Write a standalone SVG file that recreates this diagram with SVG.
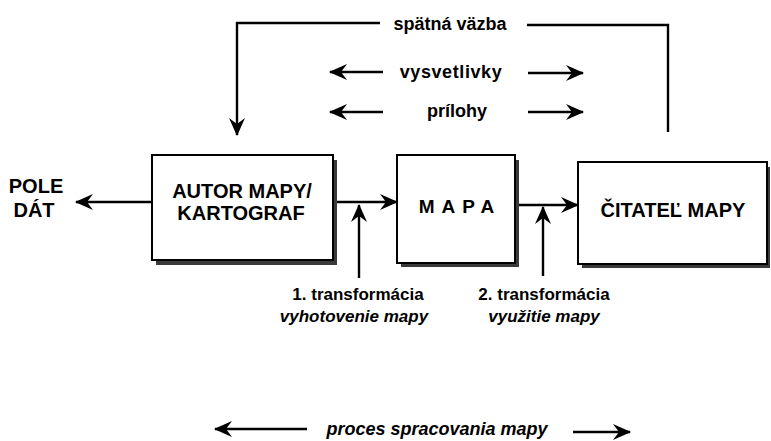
<svg xmlns="http://www.w3.org/2000/svg" width="771" height="441" viewBox="0 0 771 441">
<style>
.box{fill:#fff;stroke:#000;stroke-width:2}
.shadow{fill:#3a3a3a}
.ln{fill:none;stroke:#000;stroke-width:2.4}
.t{font-family:"Liberation Sans",Arial,sans-serif;font-weight:bold;fill:#000}
.big{font-size:20px}
.mid{font-size:18px}
.sm{font-size:17px}
.it{font-style:italic}
</style>
<defs>
<marker id="ah" markerUnits="userSpaceOnUse" markerWidth="18" markerHeight="18" viewBox="0 0 18 18" refX="17" refY="9" orient="auto">
<path d="M0,1 L18,9 L0,17 L6,9 Z" fill="#000"/>
</marker>
</defs>
<rect width="771" height="441" fill="#fff"/>
<g id="connectors">
<line class="ln" x1="152" y1="202" x2="76" y2="202" marker-end="url(#ah)"/>
<line class="ln" x1="333" y1="202" x2="397" y2="202" marker-end="url(#ah)"/>
<line class="ln" x1="359" y1="278" x2="359" y2="205" marker-end="url(#ah)"/>
<line class="ln" x1="515" y1="205" x2="578" y2="205" marker-end="url(#ah)"/>
<line class="ln" x1="543" y1="276" x2="543" y2="207" marker-end="url(#ah)"/>
<polyline class="ln" points="380,23 237,23 237,135" marker-end="url(#ah)"/>
<polyline class="ln" points="527,25 668,25 668,132"/>
<line class="ln" x1="383" y1="72" x2="330" y2="72" marker-end="url(#ah)"/>
<line class="ln" x1="528" y1="73" x2="583" y2="73" marker-end="url(#ah)"/>
<line class="ln" x1="383" y1="112" x2="330" y2="112" marker-end="url(#ah)"/>
<line class="ln" x1="528" y1="112" x2="583" y2="112" marker-end="url(#ah)"/>
<line class="ln" x1="307" y1="429" x2="215" y2="429" marker-end="url(#ah)"/>
<line class="ln" x1="573" y1="432" x2="630" y2="432" marker-end="url(#ah)"/>
</g>
<g id="pole-dat">
<text class="t big" x="36" y="193" text-anchor="middle">POLE</text>
<text class="t big" x="34" y="217" text-anchor="middle">DÁT</text>
</g>
<g id="autor">
<rect class="shadow" x="156" y="160" width="181" height="105"/>
<rect class="box" x="152" y="155" width="181" height="105"/>
<text class="t big" x="242" y="198" text-anchor="middle">AUTOR MAPY/</text>
<text class="t big" x="241" y="220" text-anchor="middle">KARTOGRAF</text>
</g>
<g id="mapa">
<rect class="shadow" x="401" y="160" width="118" height="107"/>
<rect class="box" x="397" y="155" width="118" height="108"/>
<text class="t" x="460" y="213" font-size="19" letter-spacing="7" text-anchor="middle">MAPA</text>
</g>
<g id="citatel">
<rect class="shadow" x="582" y="167" width="188" height="101"/>
<rect class="box" x="578" y="162" width="189" height="102"/>
<text class="t big" x="673" y="217" text-anchor="middle">ČITATEĽ MAPY</text>
</g>
<g id="labels">
<text class="t mid" x="450" y="30" text-anchor="middle">spätná väzba</text>
<text class="t mid" x="451" y="78" text-anchor="middle" letter-spacing="0.6">vysvetlivky</text>
<text class="t mid" x="457" y="117" text-anchor="middle">prílohy</text>
<text class="t sm" x="358" y="300" text-anchor="middle">1. transformácia</text>
<text class="t sm it" x="354" y="322" text-anchor="middle">vyhotovenie mapy</text>
<text class="t sm" x="544" y="300" text-anchor="middle">2. transformácia</text>
<text class="t sm it" x="544" y="322" text-anchor="middle">využitie mapy</text>
<text class="t mid it" x="437" y="435" text-anchor="middle">proces spracovania mapy</text>
</g>
</svg>
